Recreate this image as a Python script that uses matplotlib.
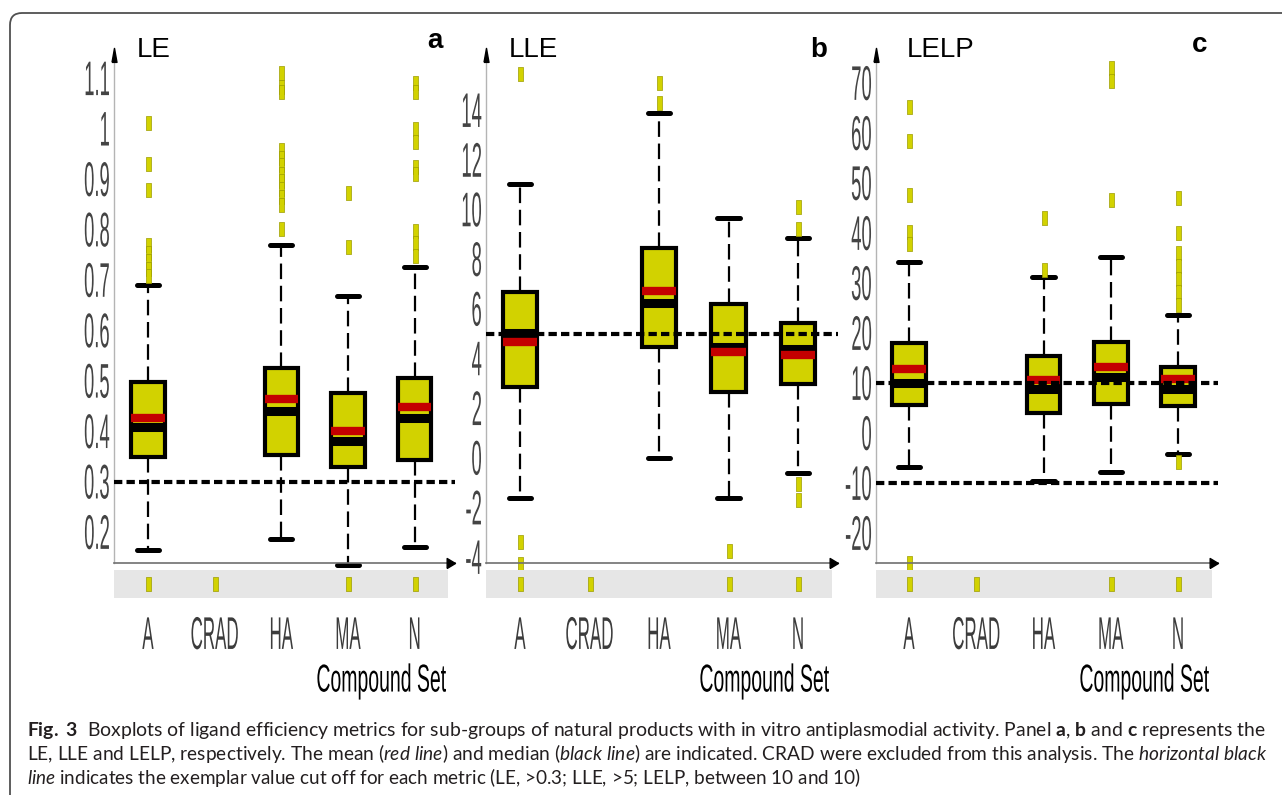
import numpy as np
import matplotlib
matplotlib.use('Agg')
import matplotlib.pyplot as plt
from matplotlib import font_manager as fm
from matplotlib.patheffects import AbstractPathEffect
from matplotlib.transforms import Affine2D, IdentityTransform, ScaledTranslation, blended_transform_factory
from matplotlib.patches import FancyBboxPatch

# ---------------- data ----------------
categories = ['A', 'CRAD', 'HA', 'MA', 'N']
box_groups = ['A', 'HA', 'MA', 'N']
strip_groups = ['A', 'CRAD', 'MA', 'N']

le_q1 = [0.349, 0.353, 0.329, 0.343]
le_q3 = [0.498, 0.525, 0.476, 0.506]
le_median = [0.408, 0.440, 0.380, 0.426]
le_mean = [0.426, 0.464, 0.400, 0.448]
le_whislo = [0.164, 0.186, 0.135, 0.171]
le_whishi = [0.690, 0.770, 0.668, 0.726]
le_outliers = [
    [1.012, 0.930, 0.878, 0.769, 0.753, 0.738, 0.722, 0.707],
    [1.110, 1.082, 1.072, 0.958, 0.942, 0.927, 0.911, 0.896, 0.880, 0.865, 0.849, 0.801],
    [0.873, 0.765],
    [1.091, 1.073, 1.000, 0.974, 0.924, 0.910, 0.797, 0.773, 0.747],
]
le_cutoff = [0.3]
le_ticks = [0.2, 0.3, 0.4, 0.5, 0.6, 0.7, 0.8, 0.9, 1.0, 1.1]
le_ticklabels = ['0.2', '0.3', '0.4', '0.5', '0.6', '0.7', '0.8', '0.9', '1', '1.1']

lle_q1 = [2.84, 4.45, 2.64, 2.96]
lle_q3 = [6.67, 8.44, 6.19, 5.42]
lle_median = [5.02, 6.23, 4.45, 4.37]
lle_mean = [4.66, 6.71, 4.25, 4.13]
lle_whislo = [-1.63, -0.02, -1.63, -0.62]
lle_whishi = [11.02, 13.88, 9.65, 8.85]
lle_outliers = [
    [15.45, -3.40, -4.28],
    [15.09, 14.28],
    [-3.76],
    [10.09, 9.21, -1.06, -1.71],
]
lle_cutoff = [5]
lle_ticks = [-4, -2, 0, 2, 4, 6, 8, 10, 12, 14]
lle_ticklabels = ['-4', '-2', '0', '2', '4', '6', '8', '10', '12', '14']

lelp_q1 = [5.6, 4.0, 5.8, 5.4]
lelp_q3 = [18.0, 15.4, 18.2, 13.2]
lelp_median = [10.0, 8.8, 11.2, 8.8]
lelp_mean = [12.8, 10.6, 13.2, 10.8]
lelp_whislo = [-6.8, -9.6, -7.8, -4.2]
lelp_whishi = [34.2, 31.2, 35.2, 23.6]
lelp_outliers = [
    [65.2, 58.4, 47.6, 40.2, 37.8, -26.0],
    [43.0, 32.6],
    [73.0, 70.4, 46.6],
    [47.0, 40.0, 36.0, 33.4, 30.8, 28.2, 25.6, -5.8],
]
lelp_cutoff = [10, -10]
lelp_ticks = [-20, -10, 0, 10, 20, 30, 40, 50, 60, 70]
lelp_ticklabels = ['-20', '-10', '0', '10', '20', '30', '40', '50', '60', '70']

titles = ['LE', 'LLE', 'LELP']
letters = ['a', 'b', 'c']
xlabel = 'Compound Set'
caption_lines = [
    r"$\mathbf{Fig.\ 3}$  Boxplots of ligand efficiency metrics for sub-groups of natural products with in vitro antiplasmodial activity. Panel $\mathbf{a}$, $\mathbf{b}$ and $\mathbf{c}$ represents the",
    r"LE, LLE and LELP, respectively. The mean ($\mathit{red\ line}$) and median ($\mathit{black\ line}$) are indicated. CRAD were excluded from this analysis. The $\mathit{horizontal\ black}$",
    r"$\mathit{line}$ indicates the exemplar value cut off for each metric (LE, >0.3; LLE, >5; LELP, between 10 and 10)",
]

# ---------------- fonts ----------------
names = {f.name for f in fm.fontManager.ttflist}
if 'Liberation Sans Narrow' in names:
    COND_FONT, COND_W = 'Liberation Sans Narrow', 0.82
else:
    COND_FONT, COND_W = 'Liberation Sans', 1.0
CAP_FONT = 'Lato' if 'Lato' in names else 'DejaVu Sans'
plt.rcParams['font.family'] = ['Liberation Sans', 'DejaVu Sans']
plt.rcParams['mathtext.fontset'] = 'custom'
plt.rcParams['mathtext.rm'] = CAP_FONT
plt.rcParams['mathtext.it'] = CAP_FONT + ':italic'
plt.rcParams['mathtext.bf'] = CAP_FONT + ':bold'


class Stretch(AbstractPathEffect):
    """Draw text stretched vertically about its ink centre (text stays real text)."""
    def __init__(self, sy):
        super().__init__()
        self.sy = sy

    def draw_path(self, renderer, gc, tpath, affine, rgbFace=None):
        ext = tpath.get_extents()
        ay = 0.5 * (ext.y0 + ext.y1)
        t = Affine2D().translate(0, -ay).scale(1.0, self.sy).translate(0, ay) + affine
        renderer.draw_path(gc, tpath, t, rgbFace)


def cond_text(height_fs, squeeze):
    """font size and vertical stretch giving a condensed look of the given height."""
    s = squeeze / COND_W
    return height_fs * s, 1.0 / s


W, H = 1282, 795
fig = plt.figure(figsize=(W / 100, H / 100), dpi=100)
fig.patch.set_facecolor('white')

YEL = '#d2d200'
YEL_EDGE = '#9c9c00'
RED = '#c40000'
flier_marker = [(-0.18, -0.5), (0.18, -0.5), (0.18, 0.5), (-0.18, 0.5), (-0.18, -0.5)]
up_arrow = [(-0.18, -1), (0.18, -1), (0, 0), (-0.18, -1)]
right_arrow = [(-1, -0.6), (-1, 0.6), (0, 0), (-1, -0.6)]

panels = [
    dict(x0=114, x1=455, sr=448, p0=148, sp=66.67, ylim=(0.1385, 1.160),
         q1=le_q1, q3=le_q3, med=le_median, mean=le_mean, lo=le_whislo, hi=le_whishi,
         out=le_outliers, cut=le_cutoff, ticks=le_ticks, tl=le_ticklabels,
         tx=137, lx=427),
    dict(x0=486, x1=838, sr=832, p0=520, sp=69.5, ylim=(-4.24, 16.50),
         q1=lle_q1, q3=lle_q3, med=lle_median, mean=lle_mean, lo=lle_whislo, hi=lle_whishi,
         out=lle_outliers, cut=lle_cutoff, ticks=lle_ticks, tl=lle_ticklabels,
         tx=509, lx=810),
    dict(x0=876, x1=1218, sr=1212, p0=909, sp=67.25, ylim=(-26.0, 77.0),
         q1=lelp_q1, q3=lelp_q3, med=lelp_median, mean=lelp_mean, lo=lelp_whislo, hi=lelp_whishi,
         out=lelp_outliers, cut=lelp_cutoff, ticks=lelp_ticks, tl=lelp_ticklabels,
         tx=907, lx=1192),
]
letter_base = [48, 57, 52]

Y_TOP, Y_AX = 48, 563
S_TOP, S_BOT = 570, 598

cat_pos = {c: i + 1 for i, c in enumerate(categories)}

tick_fs, tick_sy = cond_text(35, 0.38)
cat_fs, cat_sy = cond_text(33, 0.37)
xl_fs, xl_sy = cond_text(28, 0.50)

for k, P in enumerate(panels):
    ax = fig.add_axes([P['x0'] / W, 1 - Y_AX / H, (P['x1'] - P['x0']) / W, (Y_AX - Y_TOP) / H])
    ax.set_xlim(1 - (P['p0'] - P['x0']) / P['sp'], 1 + (P['x1'] - P['p0']) / P['sp'])
    ax.set_ylim(*P['ylim'])
    ax.set_facecolor('none')
    for s in ['top', 'right']:
        ax.spines[s].set_visible(False)
    ax.spines['left'].set_color('#b4b4b4')
    ax.spines['left'].set_linewidth(1.0)
    ax.spines['bottom'].set_color('#707070')
    ax.spines['bottom'].set_linewidth(1.2)
    ax.set_xticks([])
    ax.set_yticks([])

    stats = []
    for i, g in enumerate(box_groups):
        stats.append(dict(med=P['med'][i], q1=P['q1'][i], q3=P['q3'][i],
                          whislo=P['lo'][i], whishi=P['hi'][i], mean=P['mean'][i],
                          fliers=P['out'][i], label=g))
    ax.bxp(stats, positions=[cat_pos[g] for g in box_groups], widths=0.5, capwidths=0.33,
           patch_artist=True, showmeans=True, meanline=True, showfliers=True, manage_ticks=False,
           boxprops=dict(facecolor=YEL, edgecolor='black', linewidth=3.0),
           medianprops=dict(color='black', linewidth=6.5, solid_capstyle='butt'),
           meanprops=dict(color=RED, linewidth=6.0, linestyle='-', solid_capstyle='butt'),
           whiskerprops=dict(color='black', linewidth=1.6, linestyle=(0, (7, 3)), clip_on=False),
           capprops=dict(color='black', linewidth=3.6, solid_capstyle='round', clip_on=False),
           flierprops=dict(marker=flier_marker, markersize=10, markerfacecolor=YEL,
                           markeredgecolor=YEL_EDGE, markeredgewidth=0.5, linestyle='none',
                           clip_on=False))

    for c in P['cut']:
        ax.axhline(c, color='black', linewidth=3.0, linestyle=(0, (2, 1)), zorder=6, clip_on=False)

    # axis arrows
    ax.plot([0], [1], marker=up_arrow, markersize=20, color='black', transform=ax.transAxes,
            clip_on=False, zorder=7)
    ax.plot([1], [0], marker=right_arrow, markersize=12, color='black', transform=ax.transAxes,
            clip_on=False, zorder=7)

    # y tick labels (condensed)
    ytr = ax.get_yaxis_transform() + ScaledTranslation(-3 / 72, 0, fig.dpi_scale_trans)
    for v, lab in zip(P['ticks'], P['tl']):
        ax.text(0, v, lab, transform=ytr, ha='right', va='center_baseline',
                fontsize=tick_fs, family=COND_FONT, color='#444444',
                path_effects=[Stretch(tick_sy)])

    # grey strip with its markers
    sax = fig.add_axes([P['x0'] / W, 1 - S_BOT / H, (P['sr'] - P['x0']) / W, (S_BOT - S_TOP) / H])
    sax.set_xlim(1 - (P['p0'] - P['x0']) / P['sp'], 1 + (P['sr'] - P['p0']) / P['sp'])
    sax.set_ylim(0, 1)
    sax.set_facecolor('#e6e6e6')
    for s in sax.spines.values():
        s.set_visible(False)
    sax.set_xticks([])
    sax.set_yticks([])
    sax.plot([cat_pos[g] for g in strip_groups], [0.5] * len(strip_groups), linestyle='none',
             marker=flier_marker, markersize=10, markerfacecolor=YEL,
             markeredgecolor=YEL_EDGE, markeredgewidth=0.5)

    # category labels
    ctr = blended_transform_factory(sax.transData, fig.transFigure)
    for c in categories:
        sax.text(cat_pos[c], 1 - 633 / H, c, transform=ctr, ha='center', va='center_baseline',
                 fontsize=cat_fs, family=COND_FONT, color='#3c3c3c',
                 path_effects=[Stretch(cat_sy)])
    xtr = blended_transform_factory(ax.transAxes, fig.transFigure) + \
        ScaledTranslation(-6 / 72, 0, fig.dpi_scale_trans)
    ax.text(1, 1 - 680 / H, xlabel, transform=xtr, ha='right', va='center_baseline',
            fontsize=xl_fs, family=COND_FONT, color='black',
            path_effects=[Stretch(xl_sy)])

    # titles & panel letters
    fig.text(P['tx'] / W, 1 - 57 / H, titles[k], fontsize=20, ha='left', va='baseline',
             family='Liberation Sans', color='black')
    fig.text(P['lx'] / W, 1 - letter_base[k] / H, letters[k], fontsize=20, ha='left',
             va='baseline', family='Liberation Sans', weight='bold', color='black')

# outer rounded frame
frame = FancyBboxPatch((10, -30), 1320, 782 + 30, boxstyle='round,pad=0,rounding_size=12',
                       transform=IdentityTransform(), fill=False, edgecolor='#505050',
                       linewidth=1.3)
fig.add_artist(frame)

# caption: lines 1 and 2 justified to the same width, line 3 ragged
renderer = fig.canvas.get_renderer()
cap_texts = []
for j, (line, yb) in enumerate(zip(caption_lines, [736, 760, 784])):
    t = fig.text(27 / W, 1 - yb / H, line, fontsize=12, ha='left', va='baseline',
                 family=CAP_FONT, color='#231f20')
    cap_texts.append(t)
sizes = []
for t in cap_texts[:2]:
    w = t.get_window_extent(renderer).width
    sizes.append(12 * (1262 - 27) / w)
cap_texts[0].set_fontsize(sizes[0])
cap_texts[1].set_fontsize(sizes[1])
cap_texts[2].set_fontsize(0.98 * 0.5 * (sizes[0] + sizes[1]))

fig.savefig('out.png', dpi=100, facecolor='white')
